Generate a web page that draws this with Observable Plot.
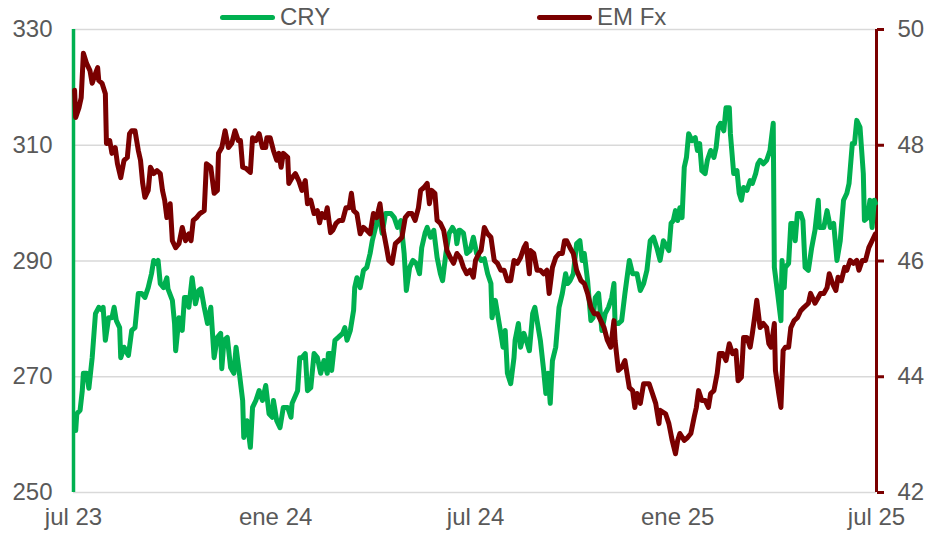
<!DOCTYPE html>
<html>
<head>
<meta charset="utf-8">
<script src="https://cdn.jsdelivr.net/npm/d3@7"></script>
<script src="https://cdn.jsdelivr.net/npm/@observablehq/plot@0.6"></script>
<style>
  body { margin: 0; background: #fff; font-family: "Liberation Sans", Arial, sans-serif; }
  #wrap { position: relative; width: 928px; height: 535px; }
  .leg { position: absolute; top: 4px; font-size: 24px; color: #595959; display: flex; align-items: center; line-height: 26px; }
  .sw { display: inline-block; width: 55px; height: 5px; border-radius: 3px; margin-right: 5px; }
</style>
</head>
<body>
<div id="wrap"></div>
<script>
// Dates are day offsets from startDate
const startDate = "2023-07-01";
const seriesNames = ["CRY", "EM Fx"];
const seriesColors = ["#00B050", "#7A0000"];

const cryDays = [2,3,6,8,9,12,14,17,20,23,26,27,29,32,35,37,39,42,43,46,49,50,53,56,59,62,65,68,71,73,75,77,79,82,85,86,90,92,93,96,99,101,103,105,108,111,114,
116,119,122,125,128,131,134,135,137,140,143,146,148,151,154,155,158,161,163,166,169,172,175,178,181,182,185,188,191,195,198,199,204,206,208,211,213,216,219,222,225,228,231,232,
234,235,238,241,245,247,249,252,255,256,258,261,264,267,270,272,275,278,281,284,289,292,295,298,301,303,306,309,312,315,317,320,322,325,328,331,334,336,339,342,345,348,349,351,
352,355,358,361,364,367,371,374,377,380,381,384,386,389,391,393,395,398,401,402,405,407,410,413,415,418,420,422,425,428,430,432,434,436,439,442,445,448,450,452,455,458,461,463,465,468,
471,473,475,478,481,484,487,490,492,493,496,499,502,506,509,513,516,519,522,525,528,531,534,537,542,544,546,548,550,552,554,556,558,560,563,566,568,570,572,575,577,580,583,585,587,
589,592,594,597,598,601,604,606,608,610,613,616,618,621,623,625,628,631,634,637,638,641,644,645,647,648,651,653,655,657,659,662,664,666,669,672,675,678,679,683,686,689,692,695,698,701,704,706,709,711,713,716,719,720,723,725,727,729,730];
const cryValues = [260.7,263.6,264.2,267.6,270.6,270.6,268.0,273.3,280.9,282.0,281.5,282,276.3,280.2,280.2,282,279.7,278.5,273.3,275.1,274,273.7,278,278.5,284.4,284.4,283.7,285.4,287.8,290.1,289.6,290.1,286.1,285.4,287.1,285.2,283.2,279.2,274.5,280.2,278,283.7,283.7,282,287.1,282.6,284.9,
285.2,282,279.2,282,273.3,276.8,277.5,271.4,276.3,276.8,271.6,270.6,275.1,270.6,265.9,259.5,262.4,257.8,264.7,265.9,267.6,265.9,268.5,263.6,263,265.9,262.4,261.2,264.7,264.7,263,265.4,267.6,273.3,273.3,274,267.6,268.1,274,273.3,270.6,272.8,270.6,274,
274,271.1,276.3,276.8,277.5,278.5,276.3,278,281.5,285.4,287.1,285.4,288.4,288.9,291.3,293.5,295.8,298.2,294.8,298.2,298.2,297.5,295.8,297,291.3,284.9,288.9,290.1,289.6,287.8,292.3,294.8,295.8,294.1,295.3,290.6,287.8,286.6,291.3,294.8,295.8,294.8,293,295.3,
295.3,294.8,291.3,291.8,294.1,291.3,290.1,290.4,287.8,286.1,280.2,283.2,280.9,277.5,275.1,278,270.6,268.8,273.3,276.3,279.2,275.1,277.5,275.8,274.5,280.9,282,279.7,276.3,271.1,267.1,270.6,265.4,272.8,275.1,282,284.4,287.8,286.1,286.6,287.8,293,293.5,290.1,291.3,286.6,
279.7,280.2,283.7,284.4,278,280.9,282,283.7,286.1,279.2,279.2,279.7,284.4,290.1,287.8,287.8,284.9,286.1,288.4,293.5,294.1,292.3,290.1,293.5,291.8,296.5,297,298.7,297,299.2,297.5,306.2,307.9,312,310.8,311.3,309.1,310.3,305.6,305.1,307.4,309.1,307.9,309.6,313.1,
313.8,312.5,316.5,316.5,312,305.1,305.6,301.7,300.5,302.7,302.2,303.9,303.4,305.1,306.8,307.4,306.8,307.4,309.1,313.8,288.9,284.4,279.7,290.1,285.4,288.9,289.6,296.5,296.5,293.5,298.2,298.2,297,288.9,288.4,292.3,295.3,300.5,295.8,295.8,298.7,295.8,296.5,290.1,293.5,300.5,301.7,303.4,310.3,310.3,314.3,313.1,305.1,297,297.5,300.5,295.8,300.5,300];

const emDays = [1,2,5,7,9,12,15,17,20,22,23,26,29,30,33,35,38,40,43,46,49,51,53,56,59,61,63,65,68,70,73,76,79,81,83,85,88,90,93,96,99,102,105,107,109,112,115,
119,121,125,128,131,132,135,138,141,144,147,150,152,154,157,161,163,166,169,172,175,176,179,182,185,187,189,191,195,196,199,202,205,208,211,213,216,219,222,224,226,229,231,234,
236,239,242,245,248,251,253,255,258,261,264,267,270,273,276,279,282,285,287,290,293,296,299,302,305,308,311,314,316,319,322,324,326,329,331,334,337,340,343,346,349,352,
355,358,361,364,366,369,371,374,377,380,383,386,389,392,395,398,401,404,407,410,412,415,416,419,422,425,428,431,433,436,439,442,445,447,449,452,455,458,462,465,468,
471,474,477,480,483,486,489,492,493,496,499,502,506,509,511,513,516,519,524,527,530,533,534,539,542,545,548,550,552,556,559,562,565,567,569,572,575,578,580,583,586,588,
591,594,597,600,603,605,608,610,613,616,618,620,622,625,628,631,633,635,638,639,642,644,646,648,651,653,656,659,662,665,669,671,675,678,680,683,686,688,691,694,696,699,702,704,707,710,713,715,718,721,724,727,730];
const emValues = [48.95,48.48,48.65,48.82,49.59,49.41,49.29,49.07,49.24,49.34,49.12,49.07,48.89,48.03,48.08,47.86,47.96,47.68,47.44,47.74,47.79,48.20,48.25,48.25,47.91,47.74,47.34,47.10,47.22,47.62,47.51,47.56,47.51,47.22,47.05,46.75,46.99,46.35,46.23,46.30,46.58,46.35,46.47,46.35,46.70,46.75,46.82,
46.87,47.68,47.62,47.17,47.22,47.86,47.96,48.25,47.96,48.03,48.25,48.08,48.08,47.62,47.60,47.53,48.13,48.08,48.20,47.96,47.96,48.13,48.13,47.91,47.74,47.86,47.62,47.86,47.79,47.34,47.44,47.51,47.39,47.22,47.39,46.99,47.05,46.82,46.87,46.66,46.82,46.75,46.92,46.49,
46.53,46.65,46.70,46.70,46.92,46.92,47.17,46.87,46.82,46.47,46.58,46.53,46.47,46.82,46.75,46.99,46.53,46.23,46.01,45.96,46.30,46.35,46.41,46.75,46.82,46.82,46.70,46.92,47.22,47.27,47.34,46.99,47.22,47.17,46.70,46.65,46.53,46.18,46.06,45.96,46.13,46.06,
45.89,45.78,45.84,45.72,46.01,46.13,46.18,46.58,46.47,46.41,46.01,45.96,45.84,45.84,45.66,45.66,46.01,45.96,46.06,46.23,46.30,45.78,46.18,46.13,45.84,45.84,45.78,45.84,45.44,45.89,46.06,46.13,46.13,46.35,46.35,46.23,46.13,45.84,45.66,45.61,45.44,
45.20,45.09,45.09,44.97,44.85,44.63,44.51,44.97,44.63,44.11,44.16,44.28,43.81,43.76,43.47,43.71,43.54,43.88,43.88,43.71,43.54,43.19,43.42,43.36,43.19,42.90,42.67,42.90,43.02,42.90,42.95,43.02,43.30,43.47,43.76,43.59,43.59,43.47,43.71,43.76,44.06,44.40,
44.40,44.28,44.57,44.40,44.45,43.93,43.99,44.68,44.68,44.51,44.75,45.02,45.32,44.85,44.92,44.85,44.57,44.51,44.92,44.11,43.71,43.47,44.45,44.51,44.51,44.85,44.97,45.02,45.14,45.20,45.27,45.44,45.27,45.37,45.44,45.44,45.54,45.78,45.61,45.49,45.72,45.66,45.89,45.84,46.01,45.96,46.01,45.84,46.01,46.01,46.23,46.35,46.47];

const leftTicks = [250, 270, 290, 310, 330];
const rightTicks = [42, 44, 46, 48, 50];
const xTickDates = ["2023-07-01", "2024-01-01", "2024-07-01", "2025-01-01", "2025-07-01"];
const monthNames = ["ene","feb","mar","abr","may","jun","jul","ago","sep","oct","nov","dic"];

const t0 = new Date(startDate);
const toDate = d => d3.utcDay.offset(t0, d);
const cry = cryDays.map((d, i) => ({date: toDate(d), value: cryValues[i]}));
const em = emDays.map((d, i) => ({date: toDate(d), value: emValues[i]}));
const xTicks = xTickDates.map(s => new Date(s));
const toLeft = d3.scaleLinear([rightTicks[0], rightTicks[rightTicks.length - 1]], [leftTicks[0], leftTicks[leftTicks.length - 1]]);

const font = '"Liberation Sans", Arial, sans-serif';
const chart = Plot.plot({
  width: 928, height: 535,
  marginTop: 29, marginBottom: 43, marginLeft: 73, marginRight: 52,
  style: {fontFamily: font, fontSize: "24px", color: "#595959", background: "white", overflow: "visible"},
  x: {type: "utc", domain: [xTicks[0], xTicks[xTicks.length - 1]]},
  y: {domain: [leftTicks[0], leftTicks[leftTicks.length - 1]]},
  marks: [
    Plot.gridY(leftTicks, {stroke: "#d9d9d9", strokeOpacity: 1, strokeWidth: 1.5}),
    Plot.axisY(leftTicks, {anchor: "left", tickSize: 0, tickPadding: 21, label: null, fill: "#595959"}),
    Plot.axisY(rightTicks.map(toLeft), {anchor: "right", tickSize: 7, tickPadding: 14, label: null,
      stroke: seriesColors[1], strokeWidth: 3, fill: "#595959", tickFormat: d => String(Math.round(toLeft.invert(d)))}),
    Plot.axisX(xTicks, {anchor: "bottom", tickSize: 0, tickPadding: 15, label: null, fill: "#595959",
      tickFormat: d => monthNames[d.getUTCMonth()] + " " + String(d.getUTCFullYear()).slice(2)}),
    Plot.ruleX([xTicks[xTicks.length - 1]], {stroke: seriesColors[1], strokeWidth: 3}),
    Plot.ruleX([xTicks[0]], {stroke: seriesColors[0], strokeWidth: 3.5}),
    Plot.line(cry, {x: "date", y: "value", stroke: seriesColors[0], strokeWidth: 5, strokeLinejoin: "round", strokeLinecap: "round"}),
    Plot.line(em, {x: "date", y: d => toLeft(d.value), stroke: seriesColors[1], strokeWidth: 5, strokeLinejoin: "round", strokeLinecap: "round"})
  ]
});
const wrap = document.getElementById("wrap");
wrap.appendChild(chart);

const legendX = [220, 537];
seriesNames.forEach((name, i) => {
  const el = document.createElement("div");
  el.className = "leg";
  el.style.left = legendX[i] + "px";
  el.innerHTML = `<span class="sw" style="background:${seriesColors[i]}"></span><span>${name}</span>`;
  wrap.appendChild(el);
});
</script>
</body>
</html>
